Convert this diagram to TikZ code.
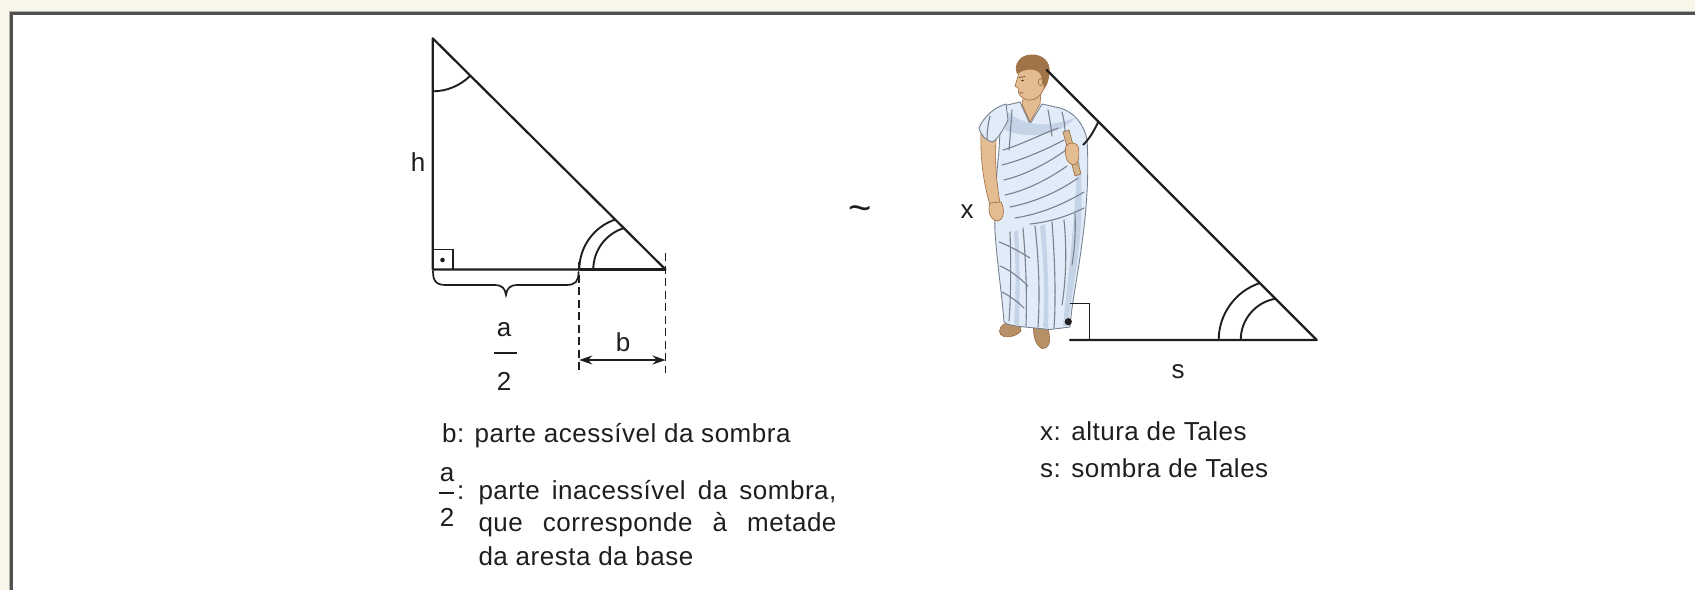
\documentclass[tikz,border=0pt]{standalone}
\usepackage{fontspec}
\setmainfont{Liberation Sans}[LetterSpace=2]
\usetikzlibrary{arrows.meta}
\definecolor{pagebg}{HTML}{F8F5E9}
\definecolor{framedark}{HTML}{505050}
\definecolor{framelight}{HTML}{B0B0A8}
\definecolor{ink}{HTML}{1E1E1E}
\definecolor{toga}{HTML}{E2ECF8}
\definecolor{togashade}{HTML}{C4D3E6}
\definecolor{togafold}{HTML}{76828F}
\definecolor{skin}{HTML}{E3BC92}
\definecolor{skinline}{HTML}{9A6A40}
\definecolor{hair}{HTML}{A07448}
\definecolor{sandal}{HTML}{B89068}
\definecolor{scrollwood}{HTML}{D6B48A}

\begin{document}
\begin{tikzpicture}[x=1pt,y=1pt,
  side/.style={draw=ink,line width=2.2pt,line cap=round,line join=round},
  thickside/.style={draw=ink,line width=3.6pt},
  anglemark/.style={draw=ink,line width=1.9pt},
  guide/.style={draw=ink,line width=1.9pt,dash pattern=on 8pt off 4.5pt},
  fracbar/.style={draw=ink,line width=1.8pt},
  dimarrow/.style={draw=ink,line width=1.8pt,{Stealth[length=13pt,width=9pt]}-{Stealth[length=13pt,width=9pt]}},
  label/.style={font=\fontsize{26}{30}\selectfont,text=ink,inner sep=0pt,anchor=base},
  note/.style={font=\fontsize{26}{33}\selectfont,text=ink,inner sep=0pt,anchor=base west},
  cloth/.style={fill=toga,draw=togafold,line width=0.9pt,line join=round},
  fold/.style={draw=togafold,line width=1.1pt,line cap=round},
  flesh/.style={fill=skin,draw=skinline,line width=0.6pt}
]
\useasboundingbox (0,0) rectangle (1695,-590);

% page and framed panel
\fill[pagebg] (0,0) rectangle (1695,-590);
\fill[white] (11,-13) rectangle (1695,-590);
\draw[framelight,line width=1.2pt] (9.6,-590) -- (9.6,-11.2) -- (1695,-11.2);
\draw[framedark,line width=2.6pt] (11.3,-590) -- (11.3,-13.6) -- (1695,-13.6);

% ---------- left triangle: the pyramid ----------
\coordinate (A) at (432.7,-38.3);
\coordinate (C) at (432.7,-269.5);
\coordinate (B) at (665.5,-269.5);
\coordinate (M) at (579.3,-269.5);

\draw[side] (M) -- (C) -- (A) -- (B);
\draw[thickside] (M) -- (B);

% angle marks
\draw[anglemark] (432.7,-91.3) arc[start angle=270,end angle=315,radius=53];
\draw[anglemark] (M) arc[start angle=180,end angle=108,radius=52.7];
\draw[anglemark] (593.3,-269.5) arc[start angle=180,end angle=106.8,radius=43.3];
\draw[anglemark,line width=1.6pt] (432.7,-249.5) -- (452.7,-249.5) -- (452.7,-269.5);
\fill[ink] (442.5,-260) circle (2.3);

% brace under the inaccessible part
\draw[ink,line width=1.7pt,line cap=round]
  (433,-271) .. controls (433,-281) and (436,-285) .. (446,-285) -- (494,-285)
  .. controls (502,-285) and (505,-288) .. (506,-295)
  .. controls (507,-288) and (510,-285) .. (518,-285) -- (566,-285)
  .. controls (576,-285) and (578.5,-281) .. (578.5,-272);

% dimension lines for b
\coordinate (dM) at (579.3,-262);
\coordinate (dMe) at (579.3,-373);
\coordinate (dB) at (665.5,-253);
\coordinate (dBe) at (665.5,-373);
\draw[guide] (dM) -- (dMe);
\draw[guide] (dB) -- (dBe);
\coordinate (bL) at (579.3,-360);
\coordinate (bR) at (665.5,-360);
\draw[dimarrow] (bL) -- (bR);

\node[label] (hlab) at (418,-171.5) {h};
\node[label] (blab) at (623,-351.5) {b};
\node[label] (anum) at (504,-336) {a};
\coordinate (fbL) at (494,-352.7);
\coordinate (fbR) at (517,-352.7);
\draw[fracbar] (fbL) -- (fbR);
\node[label] (aden) at (504,-390) {2};

\node[label,font=\fontsize{40}{40}\selectfont] (sim) at (860,-221.5) {\textasciitilde};
\node[label] (xlab) at (967,-218.3) {x};
\node[label] (slab) at (1178,-378.5) {s};

% ---------- Tales ----------
% feet
\filldraw[fill=sandal,draw=skinline,line width=0.6pt]
  (1004,-324) .. controls (998,-328) and (998,-335) .. (1004,-336.5)
  .. controls (1010,-338) and (1018,-335) .. (1021,-331) -- (1020,-324) -- cycle;
\filldraw[fill=sandal,draw=skinline,line width=0.6pt]
  (1034,-324) .. controls (1032,-335) and (1036,-346) .. (1042,-348.5)
  .. controls (1048,-349.5) and (1051,-343) .. (1049,-333) -- (1047,-324) -- cycle;

% robe body
\filldraw[cloth]
  (1003,-106) -- (1020,-102) -- (1030,-124) -- (1042,-104) -- (1060,-108)
  .. controls (1074,-112) and (1084,-124) .. (1087,-140)
  .. controls (1089,-170) and (1087,-205) .. (1083,-235)
  .. controls (1079,-270) and (1072,-300) .. (1070,-327)
  -- (1050,-329.5) -- (1030,-327.5)
  .. controls (1015,-326) and (1007,-325) .. (1004,-322)
  .. controls (1002,-295) and (997,-262) .. (995,-232)
  .. controls (994,-200) and (997,-170) .. (999,-150)
  .. controls (1000,-130) and (1001,-115) .. (1003,-106) -- cycle;

% shaded bands of the cloth
\fill[togashade] (1078,-150) .. controls (1084,-190) and (1082,-230) .. (1076,-270)
  .. controls (1072,-295) and (1069,-315) .. (1068,-326) -- (1063,-326)
  .. controls (1066,-290) and (1074,-240) .. (1078,-150) -- cycle;
\fill[togashade] (1014,-232) .. controls (1016,-265) and (1016,-300) .. (1014,-324)
  -- (1019,-325) .. controls (1020,-300) and (1020,-262) .. (1018,-230) -- cycle;
\fill[togashade] (1040,-226) .. controls (1044,-262) and (1045,-300) .. (1043,-327)
  -- (1048,-328) .. controls (1049,-300) and (1048,-262) .. (1045,-224) -- cycle;
\fill[togashade] (1008,-112) .. controls (1030,-130) and (1055,-125) .. (1075,-118)
  .. controls (1060,-135) and (1030,-140) .. (1005,-130) -- cycle;

% folds
\draw[fold] (1012,-110) .. controls (1011,-125) and (1010,-138) .. (1009,-150);
\draw[fold] (1048,-110) .. controls (1050,-120) and (1051,-128) .. (1052,-136);
\draw[fold] (1062,-112) .. controls (1064,-120) and (1065,-126) .. (1065,-132);
\draw[fold] (1003,-150) .. controls (1020,-145) and (1040,-135) .. (1058,-128);
\draw[fold] (1002,-165) .. controls (1022,-160) and (1045,-150) .. (1064,-140);
\draw[fold] (1004,-180) .. controls (1025,-175) and (1048,-163) .. (1066,-150);
\draw[fold] (1005,-195) .. controls (1028,-190) and (1050,-178) .. (1067,-166);
\draw[fold] (1010,-207) .. controls (1035,-202) and (1058,-192) .. (1078,-178);
\draw[fold] (1015,-218) .. controls (1040,-214) and (1062,-205) .. (1084,-192);
\draw[fold] (1030,-224) .. controls (1050,-222) and (1068,-216) .. (1084,-208);
\draw[fold] (1010,-232) .. controls (1011,-262) and (1011,-295) .. (1009,-321);
\draw[fold] (1023,-228) .. controls (1026,-262) and (1027,-295) .. (1026,-326);
\draw[fold] (1035,-226) .. controls (1039,-262) and (1040,-295) .. (1038,-327);
\draw[fold] (1052,-222) .. controls (1055,-262) and (1056,-300) .. (1054,-328);
\draw[fold] (1064,-220) .. controls (1067,-250) and (1066,-280) .. (1062,-305);
\draw[fold] (1075,-214) .. controls (1076,-235) and (1074,-252) .. (1072,-265);
\draw[fold] (999,-242) .. controls (1010,-246) and (1020,-252) .. (1030,-258);
\draw[fold] (1000,-266) .. controls (1010,-270) and (1020,-278) .. (1028,-286);
\draw[fold] (1002,-292) .. controls (1010,-296) and (1018,-302) .. (1024,-308);

% left arm, sleeve and hand
\filldraw[flesh] (981,-132) .. controls (980,-160) and (984,-185) .. (990,-205)
  -- (1000,-203) .. controls (996,-180) and (995,-160) .. (996,-140) -- cycle;
\filldraw[cloth] (1006,-104) .. controls (995,-107) and (984,-116) .. (979,-128)
  .. controls (981,-136) and (986,-140) .. (992,-142)
  .. controls (997,-140) and (1002,-132) .. (1008,-120) -- cycle;
\draw[fold] (990,-116) .. controls (988,-124) and (987,-132) .. (987,-139);
\filldraw[flesh] (990,-203) .. controls (987,-212) and (991,-221) .. (998,-221)
  .. controls (1004,-220) and (1005,-209) .. (1001,-202) -- cycle;

% neck and head
\filldraw[flesh] (1024,-94) -- (1022,-104) -- (1030,-122) -- (1040,-104) -- (1041,-92) -- cycle;
\filldraw[flesh] (1021,-68) .. controls (1018,-75) and (1017,-80) .. (1015,-86)
  -- (1018,-88) .. controls (1018,-92) and (1019,-96) .. (1023,-98)
  .. controls (1027,-101) and (1033,-101) .. (1038,-97)
  .. controls (1044,-92) and (1047,-82) .. (1046,-72)
  .. controls (1040,-66) and (1028,-65) .. (1021,-68) -- cycle;
\fill[hair] (1017,-74) .. controls (1013,-64) and (1020,-55) .. (1031,-54.5)
  .. controls (1043,-54) and (1051,-62) .. (1049.5,-73)
  .. controls (1049,-80) and (1047,-86) .. (1044,-89)
  .. controls (1043,-82) and (1042,-76) .. (1039,-72)
  .. controls (1033,-68) and (1024,-69) .. (1017,-74) -- cycle;
\filldraw[flesh] (1040.5,-82) ellipse (2.2 and 3.6);
\fill[skinline!60!black] (1022.5,-80.5) ellipse (1.4 and 0.9);
\draw[skinline!70!black,line width=0.8pt] (1019,-77.5) -- (1025,-76.5);
\draw[skinline,line width=0.8pt] (1019.5,-92.5) -- (1023.5,-93);

% right hand with scroll
\filldraw[fill=scrollwood,draw=skinline,line width=0.6pt]
  (1063,-132) -- (1069,-130) -- (1081,-174) -- (1075,-176) -- cycle;
\filldraw[flesh] (1066,-146) .. controls (1064,-154) and (1067,-164) .. (1073,-165)
  .. controls (1079,-165) and (1080,-155) .. (1078,-146)
  .. controls (1075,-142) and (1069,-142) .. (1066,-146) -- cycle;

% ---------- right triangle: Tales and his shadow ----------
\coordinate (P) at (1046.7,-70);
\coordinate (Q) at (1316.7,-340);
\coordinate (R) at (1070,-340);
\draw[side] (R) -- (Q) -- (P);
\draw[anglemark,line width=1.6pt] (1070,-303.3) -- (1089.3,-303.3) -- (1089.3,-340);
\fill[ink] (1068.3,-321.7) circle (3.6);
\draw[anglemark] (1218.7,-340) arc[start angle=180,end angle=108.4,radius=60];
\draw[anglemark] (1240.7,-340) arc[start angle=180,end angle=100,radius=41.9];
\draw[anglemark] (1098.3,-121.7) .. controls (1093,-133) and (1089,-139) .. (1083,-145);

% ---------- captions ----------
\node[note] (nb) at (442,-442) {b: parte acessível da sombra};
\node[note,anchor=base] (na) at (447,-481.7) {a};
\coordinate (nbarL) at (439.3,-493.3);
\coordinate (nbarR) at (453.5,-493.3);
\draw[fracbar] (nbarL) -- (nbarR);
\node[note,anchor=base] (n2) at (447,-526) {2};
\node[note] (ncolon) at (457,-499.5) {:};
\node[note] (la) at (478.3,-499.5) {\makebox[358pt][s]{parte inacessível da sombra,}};
\node[note] (lb) at (478.3,-531.7) {\makebox[358pt][s]{que corresponde à metade}};
\node[note] (lc) at (478.3,-565.7) {da aresta da base};

\node[note] (nx) at (1040,-440.5) {x: altura de Tales};
\node[note] (ns) at (1040,-477.3) {s: sombra de Tales};
\end{tikzpicture}
\end{document}
